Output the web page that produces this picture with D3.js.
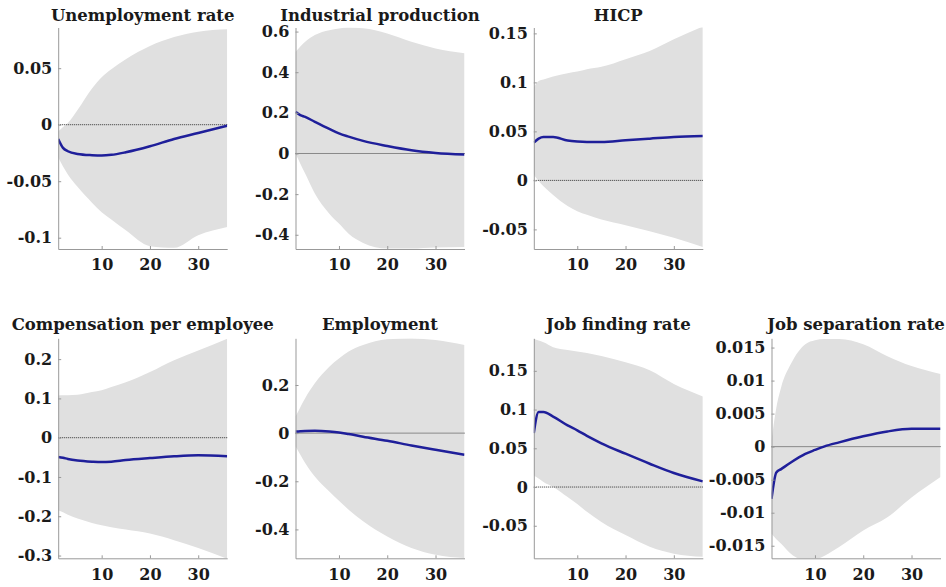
<!DOCTYPE html>
<html>
<head>
<meta charset="utf-8">
<script src="https://cdn.jsdelivr.net/npm/d3@7"></script>
<style>
  body { margin: 0; background: #fff; }
  svg text { font-family: "DejaVu Serif", serif; font-weight: bold; fill: #1a1a1a; }
  .title { font-size: 16.5px; }
  .tick { font-size: 16px; }
</style>
</head>
<body>
<script>
const width = 946, height = 587;

// horizons (months) at which the responses were read
const horizons = [1, 2, 3, 5, 8, 10, 12, 15, 20, 25, 30, 36];

const titles = ['Unemployment rate', 'Industrial production', 'HICP',
  'Compensation per employee', 'Employment', 'Job finding rate', 'Job separation rate'];

// median responses
const unempMed = [-0.0126, -0.0205, -0.0235, -0.0259, -0.027, -0.0273, -0.0267, -0.0244, -0.0191, -0.0126, -0.0073, -0.0009];
const ipMed    = [0.205, 0.189, 0.18, 0.156, 0.121, 0.099, 0.083, 0.062, 0.037, 0.016, 0.003, -0.005];
const hicpMed  = [0.0385, 0.0426, 0.0443, 0.0443, 0.0406, 0.0396, 0.0392, 0.0392, 0.0409, 0.0426, 0.0443, 0.0453];
const compMed  = [-0.049, -0.051, -0.054, -0.058, -0.061, -0.062, -0.061, -0.057, -0.052, -0.0475, -0.045, -0.047];
const emplMed  = [0.0066, 0.008, 0.009, 0.0095, 0.0066, 0.0025, -0.004, -0.015, -0.032, -0.051, -0.069, -0.09];
const jfrMed   = [0.0697, 0.0968, 0.0968, 0.091, 0.0796, 0.0732, 0.066, 0.0565, 0.043, 0.0301, 0.0181, 0.0073];
const jsrMed   = [-0.0079, -0.0039, -0.0034, -0.0024, -0.0011, -0.0005, 0.00005, 0.00065, 0.00156, 0.0023, 0.0027, 0.0027];

// upper bands
const unempHi = [-0.006, -0.002, 0.0015, 0.013, 0.032, 0.042, 0.049, 0.058, 0.0697, 0.0776, 0.0823, 0.0844];
const ipHi    = [0.5, 0.527, 0.55, 0.583, 0.607, 0.615, 0.62, 0.616, 0.591, 0.55, 0.517, 0.493];
const hicpHi  = [0.0948, 0.1015, 0.103, 0.106, 0.1094, 0.111, 0.1135, 0.1159, 0.1237, 0.132, 0.144, 0.157];
const compHi  = [0.1076, 0.108, 0.108, 0.109, 0.116, 0.121, 0.129, 0.141, 0.167, 0.197, 0.222, 0.252];
const emplHi  = [0.069, 0.108, 0.145, 0.207, 0.276, 0.31, 0.339, 0.366, 0.39, 0.393, 0.387, 0.366];
const jfrHi   = [0.1915, 0.189, 0.187, 0.1806, 0.177, 0.175, 0.173, 0.169, 0.161, 0.1506, 0.133, 0.117];
const jsrHi   = [0.0009, 0.0059, 0.009, 0.0125, 0.0155, 0.0161, 0.0163, 0.0163, 0.0155, 0.0137, 0.0122, 0.011];

// lower bands
const unempLo = [-0.0288, -0.037, -0.044, -0.055, -0.069, -0.0774, -0.084, -0.0935, -0.1075, -0.109, -0.0979, -0.0906];
const ipLo    = [0.0, -0.05, -0.099, -0.197, -0.296, -0.345, -0.395, -0.44, -0.468, -0.468, -0.463, -0.46];
const hicpLo  = [0.006, -0.0007, -0.006, -0.015, -0.0262, -0.0314, -0.035, -0.0399, -0.0457, -0.0518, -0.0586, -0.068];
const compLo  = [-0.185, -0.19, -0.196, -0.206, -0.217, -0.223, -0.228, -0.234, -0.244, -0.261, -0.281, -0.308];
const emplLo  = [-0.055, -0.09, -0.124, -0.18, -0.242, -0.281, -0.318, -0.366, -0.429, -0.477, -0.505, -0.519];
const jfrLo   = [0.015, 0.011, 0.0065, 0.0, -0.013, -0.022, -0.032, -0.045, -0.062, -0.077, -0.086, -0.09];
const jsrLo   = [-0.0132, -0.014, -0.0147, -0.0162, -0.0172, -0.0171, -0.0165, -0.0152, -0.0127, -0.0107, -0.0077, -0.0046];

// axis limits and tick labels
const yLimits = [[-0.11, 0.086], [-0.47, 0.62], [-0.07, 0.156], [-0.307, 0.253], [-0.52, 0.394], [-0.092, 0.192], [-0.0169, 0.0164]];
const yTicks = [
  [-0.1, -0.05, 0, 0.05],
  [-0.4, -0.2, 0, 0.2, 0.4, 0.6],
  [-0.05, 0, 0.05, 0.1, 0.15],
  [-0.3, -0.2, -0.1, 0, 0.1, 0.2],
  [-0.4, -0.2, 0, 0.2],
  [-0.05, 0, 0.05, 0.1, 0.15],
  [-0.015, -0.01, -0.005, 0, 0.005, 0.01, 0.015]
];
const xTicks = [10, 20, 30];

const medians = [unempMed, ipMed, hicpMed, compMed, emplMed, jfrMed, jsrMed];
const uppers = [unempHi, ipHi, hicpHi, compHi, emplHi, jfrHi, jsrHi];
const lowers = [unempLo, ipLo, hicpLo, compLo, emplLo, jfrLo, jsrLo];

const colX = [58.2, 295.5, 533.8, 771.5];
const rows = [[27.5, 249], [338.3, 558.3]];
const plotW = 169;
const cells = [[0, 0], [0, 1], [0, 2], [1, 0], [1, 1], [1, 2], [1, 3]];
const titleY = [20.5, 329.5];

const svg = d3.select('body').append('svg').attr('width', width).attr('height', height);

const fmt = v => String(+v.toFixed(4));

titles.forEach((name, i) => {
  const [r, c] = cells[i];
  const x0 = colX[c], y0 = rows[r][0], y1 = rows[r][1];
  const x = d3.scaleLinear().domain([1, 36]).range([x0, x0 + plotW]);
  const y = d3.scaleLinear().domain(yLimits[i]).range([y1, y0]);
  const data = horizons.map((h, k) => ({ h, m: medians[i][k], lo: lowers[i][k], hi: uppers[i][k] }));

  const g = svg.append('g');
  g.append('clipPath').attr('id', 'clip' + i)
    .append('rect').attr('x', x0).attr('y', y0).attr('width', plotW).attr('height', y1 - y0);

  const area = d3.area().curve(d3.curveMonotoneX)
    .x(d => x(d.h)).y0(d => y(d.lo)).y1(d => y(d.hi));
  g.append('path').datum(data)
    .attr('clip-path', `url(#clip${i})`)
    .attr('fill', '#e0e0e0')
    .attr('d', area);

  g.append('line')
    .attr('x1', x0).attr('x2', x0 + plotW)
    .attr('y1', y(0)).attr('y2', y(0))
    .attr('stroke', '#333').attr('stroke-width', 1)
    .attr('stroke-dasharray', '1,1');

  const line = d3.line().curve(d3.curveMonotoneX).x(d => x(d.h)).y(d => y(d.m));
  g.append('path').datum(data)
    .attr('clip-path', `url(#clip${i})`)
    .attr('fill', 'none')
    .attr('stroke', '#1f1f9a')
    .attr('stroke-width', 2.5)
    .attr('d', line);

  // axes, MATLAB style: inward ticks, grey lines
  const yAxis = g.append('g').attr('transform', `translate(${x0},0)`)
    .call(d3.axisLeft(y).tickValues(yTicks[i]).tickSizeInner(-3).tickSizeOuter(0).tickPadding(6).tickFormat(fmt));
  const xAxis = g.append('g').attr('transform', `translate(0,${y1})`)
    .call(d3.axisBottom(x).tickValues(xTicks).tickSizeInner(-3).tickSizeOuter(0).tickPadding(10).tickFormat(d3.format('d')));
  [yAxis, xAxis].forEach(a => {
    a.select('.domain').attr('stroke', '#999');
    a.selectAll('.tick line').attr('stroke', '#999');
    a.selectAll('.tick text').attr('class', 'tick').attr('font-family', null).attr('font-size', null).attr('fill', '#1a1a1a');
    a.attr('font-family', null).attr('font-size', null);
  });

  g.append('text').attr('class', 'title')
    .attr('x', x0 + plotW / 2).attr('y', titleY[r])
    .attr('text-anchor', 'middle')
    .text(name);
});
</script>
</body>
</html>
